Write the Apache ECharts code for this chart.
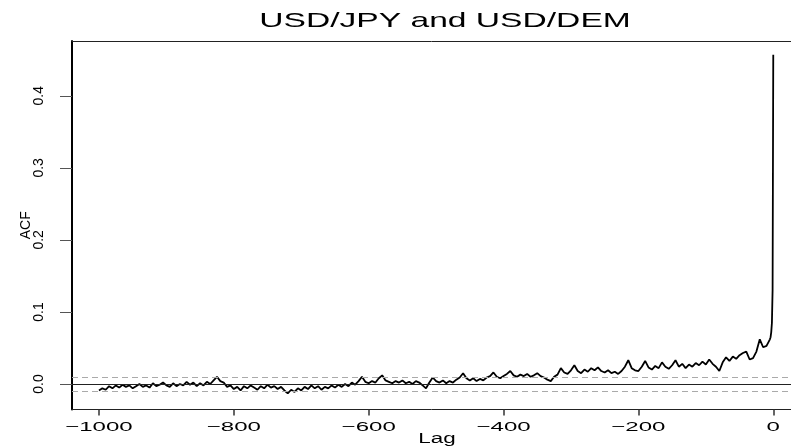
<!DOCTYPE html>
<html>
<head>
<meta charset="utf-8">
<script src="https://cdn.jsdelivr.net/npm/echarts@6/dist/echarts.min.js"></script>
<style>
  html, body { margin: 0; padding: 0; background: #ffffff; }
  #chart { width: 791px; height: 448px; }
</style>
</head>
<body>
<div id="chart"></div>
<script>
// Cross-correlation of USD/JPY and USD/DEM returns, lags -1000 .. 0
const TITLE = 'USD/JPY and USD/DEM';
const X_NAME = 'Lag';
const Y_NAME = 'ACF';

// coarse part: one value every 5 lags, from lag -1000 up to lag -5
const coarseFirstLag = -1000;
const lagStep = 5;
const acfCoarse = [
  // -1000 .. -805
  -0.009, -0.006, -0.008, -0.003, -0.006, -0.002, -0.005, -0.001, -0.004, -0.002,
  -0.006, -0.003,  0.000, -0.004, -0.002, -0.005,  0.001, -0.003, -0.001,  0.002,
  -0.002, -0.004,  0.001, -0.003,  0.000, -0.002,  0.003, -0.001,  0.002, -0.003,
   0.001, -0.002,  0.003,  0.000,  0.005,  0.010,  0.004,  0.002, -0.004, -0.002,
  // -800 .. -605
  -0.007, -0.004, -0.009, -0.003, -0.006, -0.002, -0.005, -0.008, -0.003, -0.006,
  -0.001, -0.005, -0.003, -0.007, -0.004, -0.009, -0.013, -0.008, -0.011, -0.006,
  -0.009, -0.004, -0.007, -0.002, -0.006, -0.003, -0.008, -0.004, -0.006, -0.002,
  -0.005, -0.001, -0.004,  0.000, -0.003,  0.002, -0.001,  0.004,  0.010,  0.003,
  // -600 .. -405
   0.001,  0.004,  0.002,  0.008,  0.012,  0.005,  0.003,  0.001,  0.004,  0.002,
   0.005,  0.001,  0.003,  0.000,  0.004,  0.002, -0.002, -0.006,  0.002,  0.009,
   0.004,  0.002,  0.005,  0.001,  0.004,  0.002,  0.006,  0.009,  0.015,  0.008,
   0.005,  0.008,  0.004,  0.007,  0.005,  0.009,  0.011,  0.016,  0.010,  0.008,
  // -400 .. -205
   0.011,  0.014,  0.018,  0.012,  0.010,  0.013,  0.011,  0.014,  0.010,  0.012,
   0.015,  0.011,  0.009,  0.006,  0.004,  0.010,  0.013,  0.022,  0.016,  0.014,
   0.019,  0.026,  0.018,  0.015,  0.020,  0.017,  0.022,  0.019,  0.023,  0.018,
   0.016,  0.019,  0.015,  0.017,  0.014,  0.018,  0.024,  0.033,  0.022,  0.019,
  // -200 .. -5
   0.018,  0.024,  0.032,  0.023,  0.020,  0.025,  0.022,  0.030,  0.024,  0.021,
   0.026,  0.033,  0.024,  0.028,  0.022,  0.027,  0.024,  0.029,  0.026,  0.031,
   0.027,  0.034,  0.028,  0.024,  0.018,  0.030,  0.037,  0.032,  0.038,  0.035,
   0.040,  0.043,  0.045,  0.034,  0.036,  0.045,  0.062,  0.051,  0.053,  0.062
];

// the last few lags, one by one
const nearLags = [-4, -3, -2, -1, 0];
const acfNear = [0.065, 0.072, 0.085, 0.130, 0.457];

// approximate 95% band around zero
const ciBound = 0.0076;

const xTicks = [-1000, -800, -600, -400, -200, 0];
const yTicks = [0.0, 0.1, 0.2, 0.3, 0.4];

const FONT = '"Liberation Sans", Arial, Helvetica, sans-serif';
const LAG_MIN = -1040;
const LAG_MAX = 26.3;

const seriesData = [];
acfCoarse.forEach((v, i) => seriesData.push([coarseFirstLag + i * lagStep, v]));
nearLags.forEach((lag, i) => seriesData.push([lag, acfNear[i]]));

const chart = echarts.init(document.getElementById('chart'), null, { renderer: 'canvas' });

chart.setOption({
  animation: false,
  backgroundColor: '#ffffff',
  grid: { left: 72, top: 41, right: 0, height: 368.5, show: false },
  xAxis: [{
    type: 'value', min: LAG_MIN, max: LAG_MAX, position: 'bottom',
    axisLine: { show: true, onZero: false, lineStyle: { color: '#222222', width: 1 } },
    axisTick: { show: true, length: 6, customValues: xTicks, lineStyle: { color: '#333333', width: 1.5 } },
    axisLabel: { show: false },
    splitLine: { show: false }
  }, {
    // top edge of the plot frame
    type: 'value', min: LAG_MIN, max: LAG_MAX, position: 'top',
    axisLine: { show: true, onZero: false, lineStyle: { color: '#222222', width: 1 } },
    axisTick: { show: false },
    axisLabel: { show: false },
    splitLine: { show: false }
  }],
  yAxis: {
    type: 'value', min: -0.0354, max: 0.476,
    name: Y_NAME, nameLocation: 'middle', nameGap: 39, nameRotate: 90,
    nameMoveOverlap: false,
    nameTextStyle: { fontFamily: FONT, fontSize: 14, color: '#000000' },
    axisLine: { show: true, onZero: false, lineStyle: { color: '#000000', width: 2 } },
    axisTick: { show: true, length: 12, customValues: yTicks, lineStyle: { color: '#555555', width: 1 } },
    axisLabel: {
      customValues: yTicks, rotate: 90, margin: 26,
      fontFamily: FONT, fontSize: 14, color: '#000000',
      formatter: v => Number(v).toFixed(1)
    },
    splitLine: { show: false }
  },
  series: [{
    type: 'line',
    xAxisIndex: 0,
    data: seriesData,
    showSymbol: false,
    sampling: null,
    lineStyle: { color: '#000000', width: 1.8 },
    markLine: {
      silent: true,
      symbol: 'none',
      label: { show: false },
      data: [
        { yAxis: 0, lineStyle: { color: '#222222', type: 'solid', width: 1 } },
        { yAxis: ciBound, lineStyle: { color: '#aaaaaa', type: [6, 4], width: 1 } },
        { yAxis: -ciBound, lineStyle: { color: '#aaaaaa', type: [6, 4], width: 1 } }
      ]
    }
  }]
});

// Tick labels along the lag axis, title and axis name use a wide face
function lagLabel(v) {
  return v < 0 ? '\u2212' + Math.abs(v) : String(v);
}

const texts = [];
xTicks.forEach(v => {
  const px = chart.convertToPixel({ xAxisIndex: 0 }, v);
  texts.push({
    type: 'text', x: px, y: 427.5, scaleX: 1.85, silent: true,
    style: { text: lagLabel(v), font: '13px ' + FONT, fill: '#000000', textAlign: 'center', textVerticalAlign: 'middle' }
  });
});
texts.push({
  type: 'text', x: 437, y: 439, scaleX: 1.6, silent: true,
  style: { text: X_NAME, font: '14px ' + FONT, fill: '#000000', textAlign: 'center', textVerticalAlign: 'middle' }
});
texts.push({
  type: 'text', x: 445, y: 20.8, scaleX: 1.6, silent: true,
  style: { text: TITLE, font: '21px ' + FONT, fill: '#000000', textAlign: 'center', textVerticalAlign: 'middle' }
});

chart.setOption({ graphic: { elements: texts } });
</script>
</body>
</html>
